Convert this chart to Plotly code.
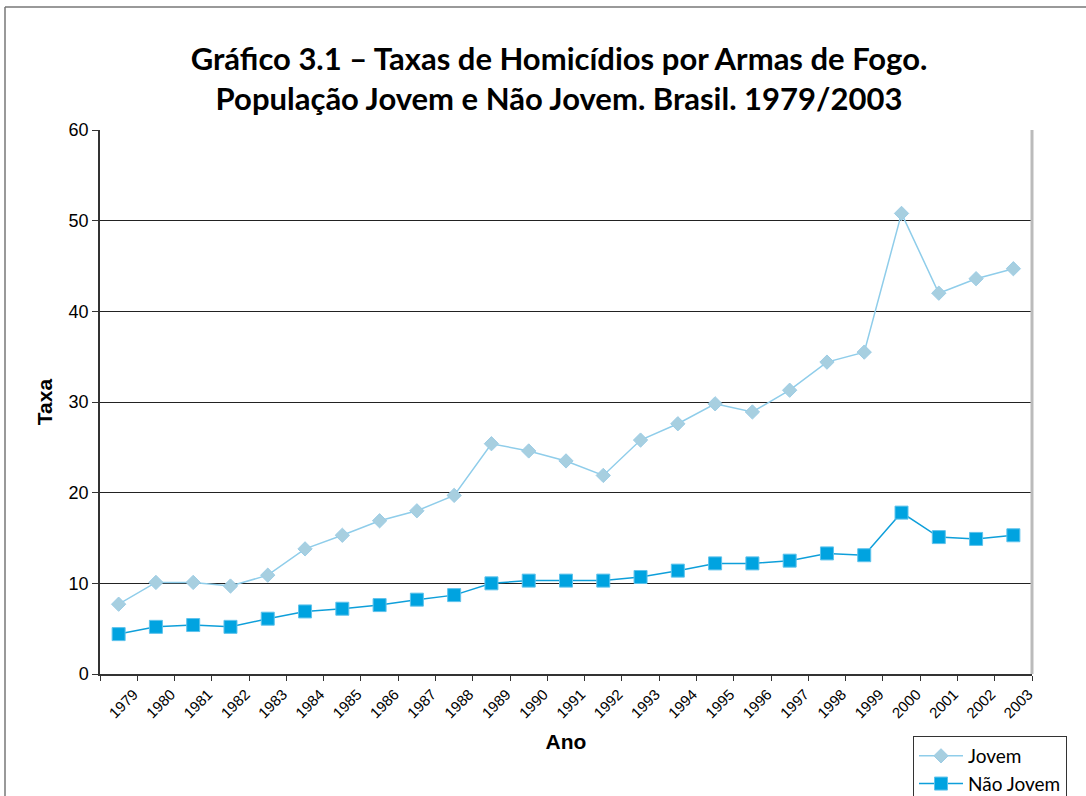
import plotly.graph_objects as go

anos = [str(y) for y in range(1979, 2004)]
jovem = [7.7, 10.1, 10.1, 9.7, 10.9, 13.8, 15.3, 16.9, 18.0, 19.7, 25.4, 24.6, 23.5, 21.9,
         25.8, 27.6, 29.8, 28.9, 31.3, 34.4, 35.5, 50.8, 42.0, 43.6, 44.7]
nao_jovem = [4.4, 5.2, 5.4, 5.2, 6.1, 6.9, 7.2, 7.6, 8.2, 8.7, 10.0, 10.3, 10.3, 10.3,
             10.7, 11.4, 12.2, 12.2, 12.5, 13.3, 13.1, 17.8, 15.1, 14.9, 15.3]
y_ticks = [0, 10, 20, 30, 40, 50, 60]

W, H = 1086, 796
L, R, T, B = 100, 1032, 130, 674

fig = go.Figure()
fig.add_trace(go.Scatter(
    x=anos, y=jovem, name="Jovem", mode="lines+markers",
    line=dict(color="#8FCDEA", width=1.5),
    marker=dict(symbol="diamond", size=11, color="#A7CFE0", line=dict(color="#9CCDE6", width=1)),
))
fig.add_trace(go.Scatter(
    x=anos, y=nao_jovem, name="Não Jovem", mode="lines+markers",
    line=dict(color="#0E9FDA", width=1.5),
    marker=dict(symbol="square", size=13, color="#00A3E0", line=dict(color="#5FC3EC", width=1)),
))

pw, ph = R - L, B - T
def px(x):
    return (x - L) / pw
def py(y):
    return (B - y) / ph

fig.update_layout(
    width=W, height=H,
    margin=dict(l=L, r=W - R, t=T, b=H - B, autoexpand=False),
    paper_bgcolor="white", plot_bgcolor="white",
    title=dict(
        text="Gráfico 3.1 – Taxas de Homicídios por Armas de Fogo.<br>População Jovem e Não Jovem. Brasil. 1979/2003",
        x=559 / W, xanchor="center", xref="container",
        y=1 - 70 / H, yanchor="middle", yref="container",
        font=dict(family="Lato", size=31, color="black", weight="bold"),
    ),
    showlegend=True,
    legend=dict(
        x=913 / W, y=1 - 736 / H, xanchor="left", yanchor="top",
        xref="container", yref="container",
        bordercolor="#333333", borderwidth=1, bgcolor="white",
        font=dict(family="Lato", size=19, color="black"),
        tracegroupgap=0, itemwidth=44,
        entrywidth=190, entrywidthmode="pixels",
    ),
    xaxis=dict(
        type="category", categoryorder="array", categoryarray=anos,
        tickson="boundaries", ticks="outside", ticklen=5, tickcolor="#333333",
        tickangle=-45, tickfont=dict(family="Arial", size=15, color="black"),
        ticklabelshift=15, ticklabelstandoff=4,
        showline=True, linecolor="#333333", linewidth=1.5, mirror=False,
        showgrid=False, range=[-0.5, 24.5], automargin=False,
        title=dict(text="<b>Ano</b>", font=dict(family="Arial", size=21, color="black"), standoff=14),
    ),
    yaxis=dict(
        range=[0, 60], tickvals=y_ticks, ticks="outside", ticklen=6, tickcolor="#333333",
        tickfont=dict(family="Arial", size=18, color="black"),
        showline=True, linecolor="#333333", linewidth=1.5, automargin=False,
        showgrid=True, gridcolor="#222222", gridwidth=1, zeroline=False,
        title=dict(text="<b>Taxa</b>", font=dict(family="Arial", size=21, color="black"), standoff=10),
    ),
    shapes=[
        dict(type="line", xref="paper", yref="paper", x0=1, x1=1, y0=0, y1=1,
             line=dict(color="#BBBBBB", width=3)),
        dict(type="line", xref="paper", yref="paper", x0=px(5), x1=px(1090), y0=py(7), y1=py(7),
             line=dict(color="#777777", width=1.5)),
        dict(type="line", xref="paper", yref="paper", x0=px(5), x1=px(5), y0=py(7), y1=py(800),
             line=dict(color="#777777", width=1.5)),
    ],
)

fig.write_html("out.html", config={"displayModeBar": False},
               post_script="document.body.style.margin='0px';document.body.style.overflow='hidden';")
